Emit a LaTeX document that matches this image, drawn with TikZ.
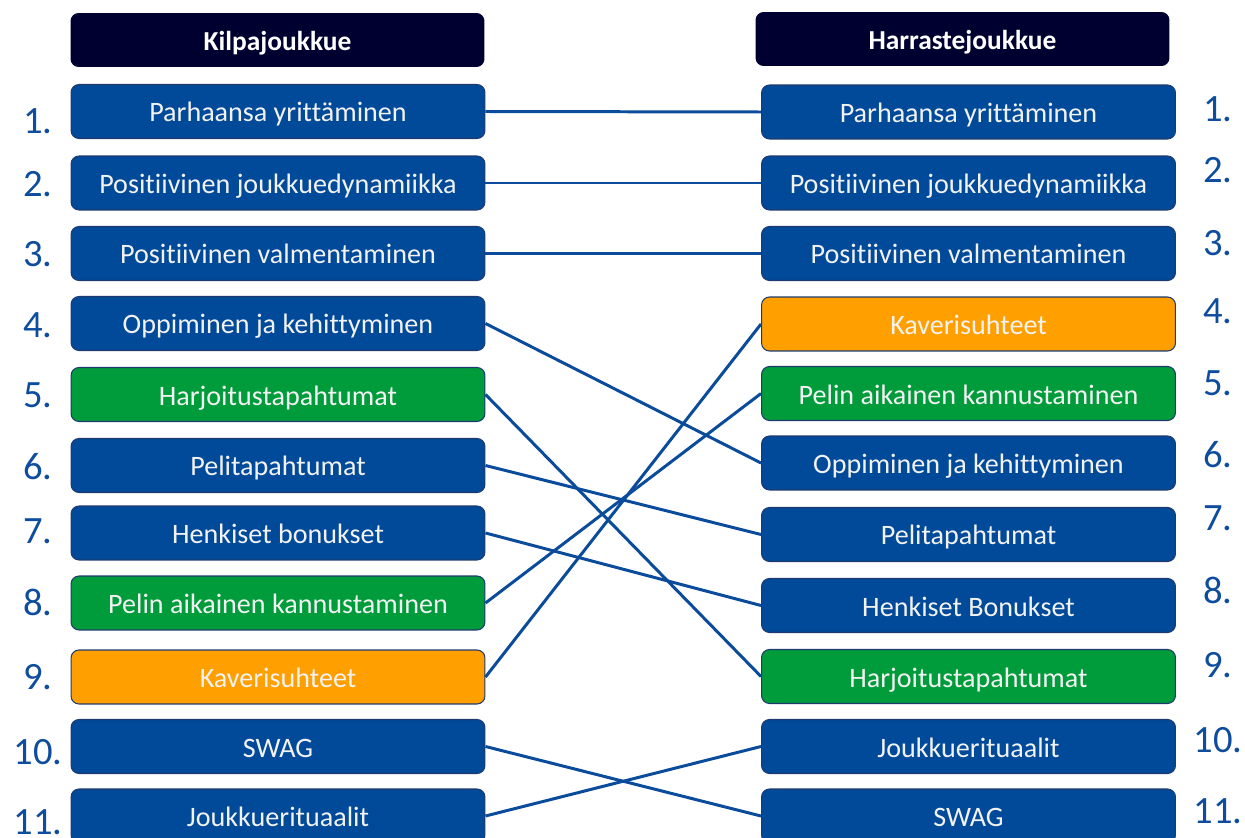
\documentclass[tikz,border=0pt]{standalone}
\usepackage{fontspec}
\setmainfont{Carlito}[Ligatures=NoCommon]
\usepackage{tikz}
\usetikzlibrary{positioning}

\definecolor{boxblue}{RGB}{0,74,153}
\definecolor{edgeblue}{RGB}{30,58,110}
\definecolor{boxgreen}{RGB}{0,156,59}
\definecolor{boxorange}{RGB}{255,160,0}
\definecolor{headnavy}{RGB}{0,0,48}
\definecolor{numblue}{RGB}{14,77,158}
\definecolor{linkblue}{RGB}{10,76,155}
\definecolor{boxtext}{RGB}{242,242,242}

\begin{document}
\begin{tikzpicture}
                [x=0.02cm,y=-0.02cm,
                box/.style={rectangle,draw=edgeblue,line width=0.6pt,rounded corners=0.16cm,
                  minimum width=8.28cm,minimum height=1.08cm,inner sep=0pt,
                  text height=0.5cm,text depth=0.08cm,text=boxtext,font=\fontsize{16}{19}\selectfont},
                bluebox/.style={box,fill=boxblue},
                greenbox/.style={box,fill=boxgreen},
                orangebox/.style={box,fill=boxorange},
                head/.style={box,draw=none,fill=headnavy,text=white,font=\bfseries\fontsize{15.6}{18}\selectfont},
                num/.style={inner sep=0pt,text=numblue,font=\fontsize{22}{26}\selectfont},
                link/.style={draw=linkblue,line width=1.7pt}]
                \clip (0,0) rectangle (1245,838);
                % otsikot
                \node[head] (hl) at (277.5,40) {Kilpajoukkue};
                \node[head] (hr) at (962.5,39) {Harrastejoukkue};
                % kilpajoukkue
                \node[bluebox] (l1) at (278,111.5) {Parhaansa yrittäminen};
                \node[bluebox] (l2) at (278,183) {Positiivinen joukkuedynamiikka};
                \node[bluebox] (l3) at (278,253.5) {Positiivinen valmentaminen};
                \node[bluebox] (l4) at (278,323.5) {Oppiminen ja kehittyminen};
                \node[greenbox] (l5) at (278,394.5) {Harjoitustapahtumat};
                \node[bluebox] (l6) at (278,465.5) {Pelitapahtumat};
                \node[bluebox] (l7) at (278,533) {Henkiset bonukset};
                \node[greenbox] (l8) at (278,603) {Pelin aikainen kannustaminen};
                \node[orangebox] (l9) at (278,677) {Kaverisuhteet};
                \node[bluebox] (l10) at (278,746.5) {SWAG};
                \node[bluebox] (l11) at (278,816) {Joukkuerituaalit};
                % harrastejoukkue
                \node[bluebox] (r1) at (968.5,112) {Parhaansa yrittäminen};
                \node[bluebox] (r2) at (968.5,183) {Positiivinen joukkuedynamiikka};
                \node[bluebox] (r3) at (968.5,253.5) {Positiivinen valmentaminen};
                \node[orangebox] (r4) at (968.5,324) {Kaverisuhteet};
                \node[greenbox] (r5) at (968.5,393.5) {Pelin aikainen kannustaminen};
                \node[bluebox] (r6) at (968.5,463) {Oppiminen ja kehittyminen};
                \node[bluebox] (r7) at (968.5,534.5) {Pelitapahtumat};
                \node[bluebox] (r8) at (968.5,605.5) {Henkiset Bonukset};
                \node[greenbox] (r9) at (968.5,676.5) {Harjoitustapahtumat};
                \node[bluebox] (r10) at (968.5,746.5) {Joukkuerituaalit};
                \node[bluebox] (r11) at (968.5,816) {SWAG};
                % numerot
                \node[num] (nl1) at (38,121) {1.};
                \node[num] (nl2) at (38,184.5) {2.};
                \node[num] (nl3) at (38,254.5) {3.};
                \node[num] (nl4) at (38,325) {4.};
                \node[num] (nl5) at (38,395) {5.};
                \node[num] (nl6) at (38,467) {6.};
                \node[num] (nl7) at (38,531.5) {7.};
                \node[num] (nl8) at (38,602.5) {8.};
                \node[num] (nl9) at (38,677) {9.};
                \node[num] (nl10) at (38,752.5) {10.};
                \node[num] (nl11) at (38,822.5) {11.};
                \node[num] (nr1) at (1218,109) {1.};
                \node[num] (nr2) at (1218,170) {2.};
                \node[num] (nr3) at (1218,243.5) {3.};
                \node[num] (nr4) at (1218,311.5) {4.};
                \node[num] (nr5) at (1218,383.5) {5.};
                \node[num] (nr6) at (1218,455) {6.};
                \node[num] (nr7) at (1218,518.5) {7.};
                \node[num] (nr8) at (1218,590) {8.};
                \node[num] (nr9) at (1218,665) {9.};
                \node[num] (nr10) at (1218,740) {10.};
                \node[num] (nr11) at (1218,811) {11.};
                % yhteydet
                \path (l1.east) edge[link] (r1.west)
                      (l2.east) edge[link] (r2.west)
                      (l3.east) edge[link] (r3.west)
                      (l4.east) edge[link] (r6.west)
                      (l5.east) edge[link] (r9.west)
                      (l6.east) edge[link] (r7.west)
                      (l7.east) edge[link] (r8.west)
                      (l8.east) edge[link] (r5.west)
                      (l9.east) edge[link] (r4.west)
                      (l10.east) edge[link] (r11.west)
                      (l11.east) edge[link] (r10.west);
            \end{tikzpicture}
\end{document}
